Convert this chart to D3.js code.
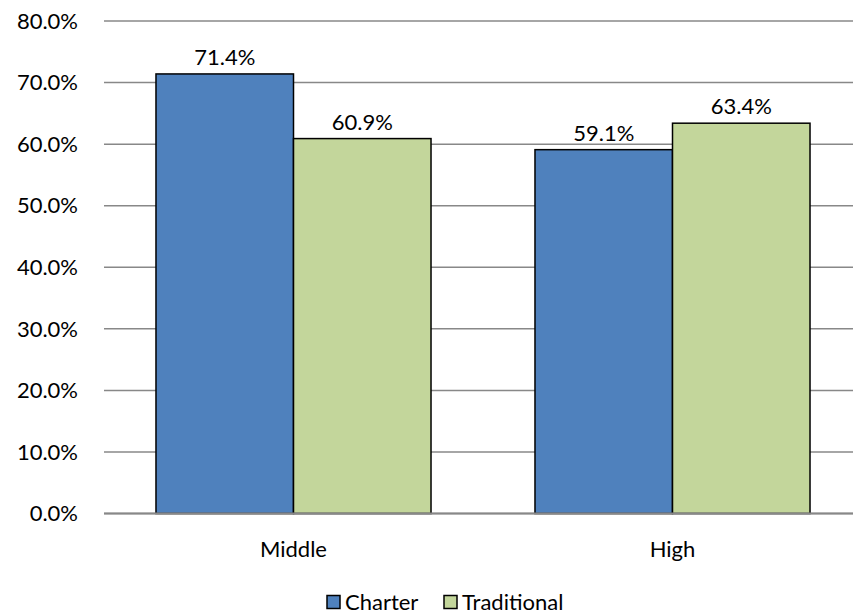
<!DOCTYPE html>
<html>
<head>
<meta charset="utf-8">
<script src="https://cdn.jsdelivr.net/npm/d3@7"></script>
<style>
  body { margin: 0; background: #fff; }
  text { font-family: Lato, "Open Sans", sans-serif; fill: #000; }
</style>
</head>
<body>
<div class="chart"></div>
<script>
const width = 853;
const height = 615;
const fontSize = '22px';

// data
const categories = ['Middle', 'High'];
const seriesNames = ['Charter', 'Traditional'];
const charter = [71.4, 59.1];
const traditional = [60.9, 63.4];
const yTicks = [0, 10, 20, 30, 40, 50, 60, 70, 80];
const colors = ['#4F81BD', '#C3D69B'];

const svg = d3.select('.chart').append('svg')
    .attr('width', width)
    .attr('height', height);

// plot area runs a bit past the right edge (cropped like the original)
const x0 = d3.scaleBand().domain(categories).range([104, 862]).padding(0);
const x1 = d3.scaleBand().domain(seriesNames).range([0, x0.bandwidth()])
    .paddingInner(0).paddingOuter(0.378);
const y = d3.scaleLinear().domain([0, 80]).range([513.5, 21]);

/* grid lines */
svg.append('g')
    .attr('class', 'grid')
    .selectAll('line')
    .data(yTicks)
    .enter()
    .append('line')
    .attr('x1', 104)
    .attr('x2', 862)
    .attr('y1', d => y(d))
    .attr('y2', d => y(d))
    .attr('stroke', '#888')
    .attr('stroke-width', 1.5);

/* y axis labels */
svg.append('g')
    .selectAll('text')
    .data(yTicks)
    .enter()
    .append('text')
    .attr('x', 78)
    .attr('y', d => y(d))
    .attr('dy', '0.35em')
    .attr('text-anchor', 'end')
    .style('font-size', fontSize)
    .text(d => d.toFixed(1) + '%');

/* bars */
const rows = categories.map((c, i) => ({ cat: c, vals: [charter[i], traditional[i]] }));
const groups = svg.selectAll('.grp')
    .data(rows)
    .enter()
    .append('g')
    .attr('class', 'grp')
    .attr('transform', d => `translate(${x0(d.cat)},0)`);

groups.selectAll('rect')
    .data(d => d.vals.map((v, j) => ({ name: seriesNames[j], v: v, j: j })))
    .enter()
    .append('rect')
    .attr('x', d => x1(d.name))
    .attr('y', d => y(d.v))
    .attr('width', x1.bandwidth())
    .attr('height', d => y(0) - y(d.v))
    .attr('fill', d => colors[d.j])
    .attr('stroke', '#000')
    .attr('stroke-width', 1.5);

groups.selectAll('.lbl')
    .data(d => d.vals.map((v, j) => ({ name: seriesNames[j], v: v })))
    .enter()
    .append('text')
    .attr('class', 'lbl')
    .attr('x', d => x1(d.name) + x1.bandwidth() / 2)
    .attr('y', d => y(d.v) - 9)
    .attr('text-anchor', 'middle')
    .style('font-size', fontSize)
    .text(d => d.v.toFixed(1) + '%');

/* baseline */
svg.append('line')
    .attr('x1', 104).attr('x2', 862)
    .attr('y1', y(0)).attr('y2', y(0))
    .attr('stroke', '#888')
    .attr('stroke-width', 2);

/* category labels */
svg.append('g')
    .selectAll('text')
    .data(categories)
    .enter()
    .append('text')
    .attr('x', d => x0(d) + x0.bandwidth() / 2)
    .attr('y', 549)
    .attr('dy', '0.35em')
    .attr('text-anchor', 'middle')
    .style('font-size', fontSize)
    .text(d => d);

/* legend */
const legendX = [327, 444];
const legend = svg.append('g')
    .selectAll('g')
    .data(seriesNames)
    .enter()
    .append('g')
    .attr('transform', (d, i) => `translate(${legendX[i]},602)`);
legend.append('rect')
    .attr('x', 0).attr('y', -6.5)
    .attr('width', 13).attr('height', 13)
    .attr('fill', (d, i) => colors[i])
    .attr('stroke', '#000')
    .attr('stroke-width', 1.5);
legend.append('text')
    .attr('x', 18)
    .attr('y', 0)
    .attr('dy', '0.35em')
    .style('font-size', fontSize)
    .text(d => d);
</script>
</body>
</html>
